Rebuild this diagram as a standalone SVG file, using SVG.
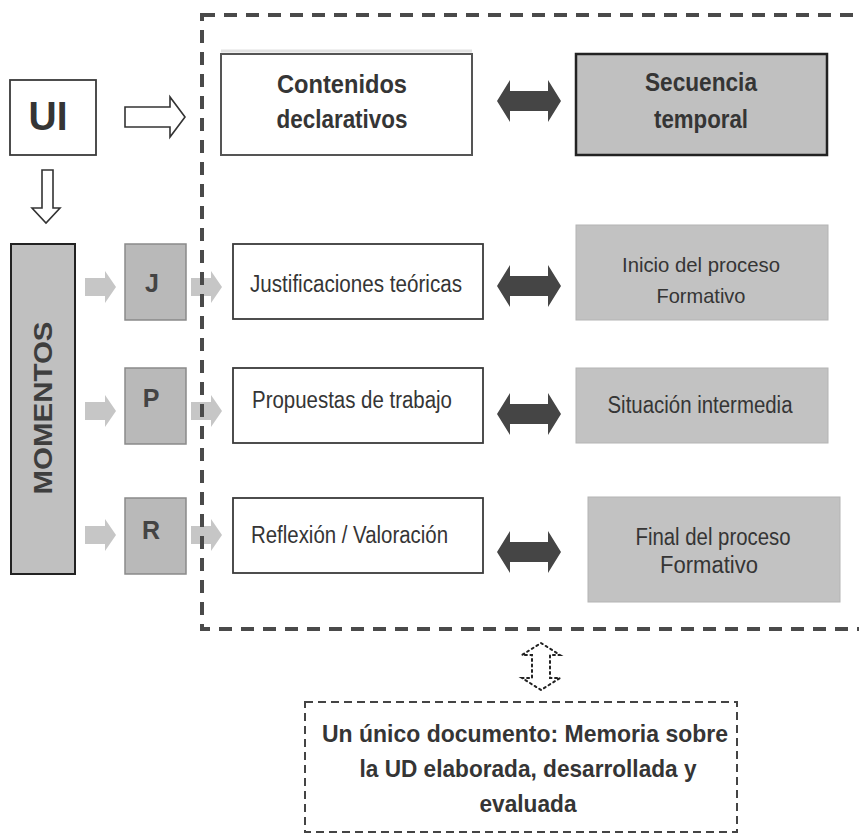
<svg xmlns="http://www.w3.org/2000/svg" width="859" height="839" viewBox="0 0 859 839">
<style>
text{font-family:"Liberation Sans",Arial,sans-serif;fill:#353535}
.b{font-weight:bold}
.hollow{fill:#fff;stroke:#333;stroke-width:1.6}
.dark{fill:#454545}
.light{fill:#c6c6c6}
.wbox{fill:#fff;stroke:#3a3a3a;stroke-width:1.8}
.gbox{fill:#c2c2c2;stroke:#b4b4b4;stroke-width:1}
.lbox{fill:#b9b9b9;stroke:#8a8a8a;stroke-width:1.5}
.let{font-weight:bold;fill:#444}
</style>
<defs>
<path id="dbl" d="M-32,0 L-19,-21 L-19,-10 L19,-10 L19,-21 L32,0 L19,21 L19,10 L-19,10 L-19,21 Z"/>
<path id="lt" d="M0,-9 H20 V-16 L31,0 L20,16 V9 H0 Z"/>
</defs>
<rect width="859" height="839" fill="#fff"/>

<g id="ui">
<rect x="10" y="80" width="86" height="75" fill="#fff" stroke="#3a3a3a" stroke-width="1.8"/>
<text class="b" x="48" y="130" font-size="40" text-anchor="middle" textLength="39" lengthAdjust="spacingAndGlyphs">UI</text>
</g>

<g id="momentos">
<rect x="11" y="244" width="64" height="330" fill="#c0c0c0" stroke="#222" stroke-width="2"/>
<text class="b" transform="translate(52,408) rotate(-90)" x="0" y="0" font-size="25" text-anchor="middle" textLength="173" lengthAdjust="spacingAndGlyphs" style="fill:#3e3e3e">MOMENTOS</text>
</g>

<g id="j"><rect class="lbox" x="125" y="244" width="61" height="76"/><text class="let" x="152" y="292" font-size="25" text-anchor="middle">J</text></g>
<g id="p"><rect class="lbox" x="125" y="368" width="61" height="76"/><text class="let" x="151" y="407" font-size="25" text-anchor="middle">P</text></g>
<g id="r"><rect class="lbox" x="125" y="498" width="61" height="76"/><text class="let" x="151" y="539" font-size="25" text-anchor="middle">R</text></g>

<g id="contenidos">
<line x1="221" y1="51" x2="472" y2="51" stroke="#e2e2e2" stroke-width="3"/>
<rect x="221" y="54" width="251" height="101" fill="#fff" stroke="#555" stroke-width="2"/>
<text class="b" x="342" y="93" font-size="25" text-anchor="middle" textLength="130" lengthAdjust="spacingAndGlyphs">Contenidos</text>
<text class="b" x="342" y="128" font-size="25" text-anchor="middle" textLength="131" lengthAdjust="spacingAndGlyphs">declarativos</text>
</g>

<g id="secuencia">
<rect x="576" y="54" width="251" height="101" fill="#c0c0c0" stroke="#222" stroke-width="2.5"/>
<text class="b" x="701" y="91" font-size="25" text-anchor="middle" textLength="112" lengthAdjust="spacingAndGlyphs">Secuencia</text>
<text class="b" x="701" y="128" font-size="25" text-anchor="middle" textLength="94" lengthAdjust="spacingAndGlyphs">temporal</text>
</g>

<g id="justificaciones">
<rect class="wbox" x="233" y="244" width="250" height="75"/>
<text x="250" y="292" font-size="23" textLength="212" lengthAdjust="spacingAndGlyphs">Justificaciones teóricas</text>
</g>
<g id="propuestas">
<rect class="wbox" x="233" y="368" width="250" height="75"/>
<text x="252" y="408" font-size="23" textLength="200" lengthAdjust="spacingAndGlyphs">Propuestas de trabajo</text>
</g>
<g id="reflexion">
<rect class="wbox" x="233" y="498" width="250" height="75"/>
<text x="251" y="543" font-size="23" textLength="197" lengthAdjust="spacingAndGlyphs">Reflexión / Valoración</text>
</g>

<g id="inicio">
<rect class="gbox" x="576" y="225" width="252" height="95"/>
<text x="701" y="272" font-size="21" text-anchor="middle" textLength="158" lengthAdjust="spacingAndGlyphs">Inicio del proceso</text>
<text x="701" y="303" font-size="21" text-anchor="middle" textLength="89" lengthAdjust="spacingAndGlyphs">Formativo</text>
</g>
<g id="situacion">
<rect class="gbox" x="576" y="368" width="252" height="75"/>
<text x="700" y="413" font-size="23" text-anchor="middle" textLength="185" lengthAdjust="spacingAndGlyphs">Situación intermedia</text>
</g>
<g id="final">
<rect class="gbox" x="588" y="497" width="252" height="105"/>
<text x="713" y="545" font-size="23" text-anchor="middle" textLength="155" lengthAdjust="spacingAndGlyphs">Final del proceso</text>
<text x="709" y="573" font-size="23" text-anchor="middle" textLength="98" lengthAdjust="spacingAndGlyphs">Formativo</text>
</g>

<g id="connectors">
<path class="hollow" d="M125,107 H170 V97 L185,117 L170,137 V127 H125 Z"/>
<path class="hollow" d="M42,170 H53 V208 H60 L46,223 L32,208 H42 Z"/>
<use href="#lt" class="light" x="85" y="287"/>
<use href="#lt" class="light" x="85" y="411"/>
<use href="#lt" class="light" x="85" y="535"/>
<use href="#lt" class="light" x="191" y="287"/>
<use href="#lt" class="light" x="191" y="411"/>
<use href="#lt" class="light" x="191" y="535"/>
<use href="#dbl" class="dark" x="529" y="101"/>
<use href="#dbl" class="dark" x="529" y="286"/>
<use href="#dbl" class="dark" x="529" y="414"/>
<use href="#dbl" class="dark" x="529" y="552"/>
<path d="M541,643 L560,655 H550 V678 H560 L541,690 L522,678 H532 V655 H522 Z" fill="none" stroke="#222" stroke-width="2" stroke-dasharray="2 3.5" stroke-linecap="round"/>
</g>

<g id="frame">
<rect x="202" y="15" width="720" height="614" fill="none" stroke="#4a4a4a" stroke-width="4" stroke-dasharray="13 9"/>
</g>

<g id="documento">
<rect x="305" y="702" width="432" height="130" fill="none" stroke="#444" stroke-width="2" stroke-dasharray="8 5"/>
<text class="b" x="525" y="742" font-size="24" text-anchor="middle" textLength="406" lengthAdjust="spacingAndGlyphs">Un único documento: Memoria sobre</text>
<text class="b" x="528" y="777" font-size="24" text-anchor="middle" textLength="337" lengthAdjust="spacingAndGlyphs">la UD elaborada, desarrollada y</text>
<text class="b" x="528" y="812" font-size="24" text-anchor="middle" textLength="97" lengthAdjust="spacingAndGlyphs">evaluada</text>
</g>
</svg>
